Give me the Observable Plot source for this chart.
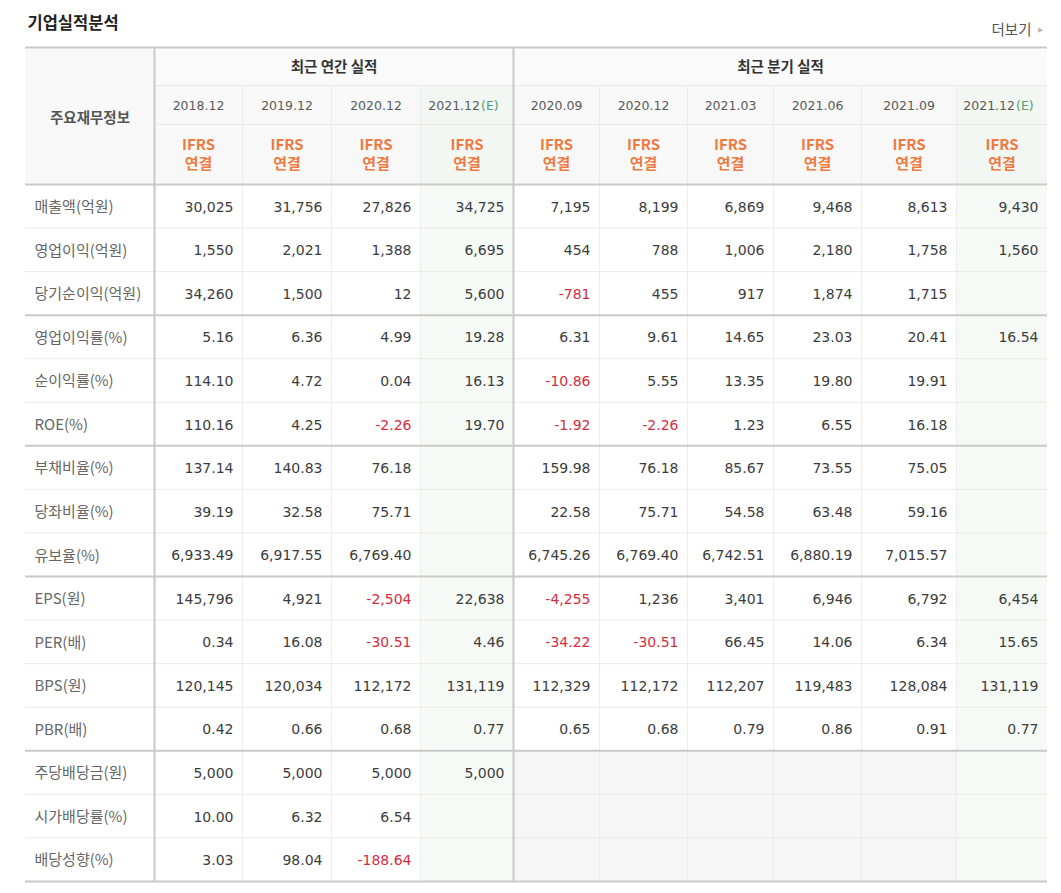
<!DOCTYPE html>
<html><head><meta charset="utf-8">
<script src="https://cdn.jsdelivr.net/npm/d3@7"></script>
<script src="https://cdn.jsdelivr.net/npm/@observablehq/plot@0.6"></script>
<style>body{margin:0;background:#fff;}</style>
</head><body><div id="chart"></div>
<script>
// ---------------- DATA ----------------
const title = "기업실적분석";
const moreLabel = "더보기";
const cornerLabel = "주요재무정보";
const groupLabels = ["최근 연간 실적", "최근 분기 실적"];
const periods = ["2018.12","2019.12","2020.12","2021.12","2020.09","2020.12","2021.03","2021.06","2021.09","2021.12"];
const isEstimate = [false,false,false,true,false,false,false,false,false,true];
const estimateTag = "(E)";
const basisLines = ["IFRS", "연결"];
const rowLabels = ["매출액(억원)","영업이익(억원)","당기순이익(억원)","영업이익률(%)","순이익률(%)","ROE(%)","부채비율(%)","당좌비율(%)","유보율(%)","EPS(원)","PER(배)","BPS(원)","PBR(배)","주당배당금(원)","시가배당률(%)","배당성향(%)"];

const sales            = [30025, 31756, 27826, 34725, 7195, 8199, 6869, 9468, 8613, 9430];
const operatingProfit  = [1550, 2021, 1388, 6695, 454, 788, 1006, 2180, 1758, 1560];
const netIncome        = [34260, 1500, 12, 5600, -781, 455, 917, 1874, 1715, null];
const operatingMargin  = [5.16, 6.36, 4.99, 19.28, 6.31, 9.61, 14.65, 23.03, 20.41, 16.54];
const netMargin        = [114.10, 4.72, 0.04, 16.13, -10.86, 5.55, 13.35, 19.80, 19.91, null];
const roe              = [110.16, 4.25, -2.26, 19.70, -1.92, -2.26, 1.23, 6.55, 16.18, null];
const debtRatio        = [137.14, 140.83, 76.18, null, 159.98, 76.18, 85.67, 73.55, 75.05, null];
const quickRatio       = [39.19, 32.58, 75.71, null, 22.58, 75.71, 54.58, 63.48, 59.16, null];
const reserveRatio     = [6933.49, 6917.55, 6769.40, null, 6745.26, 6769.40, 6742.51, 6880.19, 7015.57, null];
const eps              = [145796, 4921, -2504, 22638, -4255, 1236, 3401, 6946, 6792, 6454];
const per              = [0.34, 16.08, -30.51, 4.46, -34.22, -30.51, 66.45, 14.06, 6.34, 15.65];
const bps              = [120145, 120034, 112172, 131119, 112329, 112172, 112207, 119483, 128084, 131119];
const pbr              = [0.42, 0.66, 0.68, 0.77, 0.65, 0.68, 0.79, 0.86, 0.91, 0.77];
const dividendPerShare = [5000, 5000, 5000, 5000, null, null, null, null, null, null];
const dividendYield    = [10.00, 6.32, 6.54, null, null, null, null, null, null, null];
const payoutRatio      = [3.03, 98.04, -188.64, null, null, null, null, null, null, null];

const tableRows = [sales, operatingProfit, netIncome, operatingMargin, netMargin, roe, debtRatio, quickRatio, reserveRatio, eps, per, bps, pbr, dividendPerShare, dividendYield, payoutRatio];
const rowDecimals = [0,0,0,2,2,2,2,2,2,0,2,0,2,0,2,2];
const groupBreaksAfter = [2, 5, 8, 12];
const noQuarterlyRows = [13, 14, 15];

// ---------------- LAYOUT ----------------
const W = 1061, H = 893;
const LEFT = 25, TOP = 47;
const colWidths = [129, 88, 89, 89, 93, 86, 88, 86, 88, 95, 91];
const headerHeights = [38, 39, 60];
const ROW_H = 43.56;
const nAnnual = 4;

const colEdges = [LEFT];
colWidths.forEach(w => colEdges.push(colEdges[colEdges.length - 1] + w));
const headEdges = [TOP];
headerHeights.forEach(h => headEdges.push(headEdges[headEdges.length - 1] + h));
const bodyTop = headEdges[3];
const rowY = i => bodyTop + i * ROW_H;
const bodyBottom = rowY(rowLabels.length);
const RIGHT = colEdges[colEdges.length - 1];
const splitX = colEdges[1 + nAnnual];

const C = {
  headBg: "#f8f8f8", headEstBg: "#f2f7f3", estBg: "#f5faf7", greyBg: "#f6f6f6",
  lineLight: "#e9e9e9", lineMid: "#c9c9c9", text: "#3c3c3c", label: "#666",
  neg: "#d62c40", orange: "#ee7a42", green: "#4f9f72"
};
const NUM_FONT = "DejaVu Sans, Verdana, sans-serif";
const KR_FONT = "'Noto Sans CJK KR', 'Noto Sans', sans-serif";

// ---------------- BUILD MARK DATA ----------------
const rects = [];
rects.push({x1: LEFT, x2: colEdges[1], y1: TOP, y2: bodyTop, fill: C.headBg});
rects.push({x1: colEdges[1], x2: splitX, y1: TOP, y2: headEdges[1], fill: "#fafafa"});
rects.push({x1: splitX, x2: RIGHT, y1: TOP, y2: headEdges[1], fill: "#fafafa"});
periods.forEach((p, j) => {
  rects.push({x1: colEdges[j + 1], x2: colEdges[j + 2], y1: headEdges[1], y2: bodyTop,
    fill: isEstimate[j] ? C.headEstBg : C.headBg});
});
rowLabels.forEach((r, i) => {
  periods.forEach((p, j) => {
    let fill = null;
    if (isEstimate[j]) fill = C.estBg;
    else if (noQuarterlyRows.includes(i) && j >= nAnnual) fill = C.greyBg;
    if (fill) rects.push({x1: colEdges[j + 1], x2: colEdges[j + 2], y1: rowY(i), y2: rowY(i + 1), fill});
  });
});

const thinH = [
  {y: headEdges[1], x1: colEdges[1], x2: RIGHT},
  {y: headEdges[2], x1: colEdges[1], x2: RIGHT}
];
const thickH = [{y: TOP, x1: LEFT, x2: RIGHT}, {y: bodyTop, x1: LEFT, x2: RIGHT}, {y: bodyBottom, x1: LEFT, x2: RIGHT}];
for (let i = 0; i < rowLabels.length - 1; i++) {
  if (groupBreaksAfter.includes(i)) thickH.push({y: rowY(i + 1), x1: LEFT, x2: RIGHT});
  else thinH.push({y: rowY(i + 1), x1: LEFT, x2: RIGHT});
}
const thinV = [];
for (let j = 2; j < colEdges.length - 1; j++) {
  if (j === 1 + nAnnual) continue;
  thinV.push({x: colEdges[j], y1: headEdges[1], y2: bodyBottom});
}
const thickV = [{x: colEdges[1], y1: TOP, y2: bodyBottom}, {x: splitX, y1: TOP, y2: bodyBottom}];

const cells = [];
tableRows.forEach((vals, i) => {
  vals.forEach((v, j) => {
    if (v == null) return;
    const f = d3.format(rowDecimals[i] ? ",.2f" : ",d");
    cells.push({x: colEdges[j + 2] - 9, y: rowY(i) + ROW_H / 2 + 1, text: f(v).replace("−", "-"), neg: v < 0});
  });
});
const labels = rowLabels.map((r, i) => ({x: LEFT + 9, y: rowY(i) + ROW_H / 2 + 1, text: r}));
const colCenter = j => (colEdges[j + 1] + colEdges[j + 2]) / 2;
const dateRowY = (headEdges[1] + headEdges[2]) / 2 + 1;
const datesPlain = periods.map((p, j) => ({p, j})).filter(d => !isEstimate[d.j]).map(d => ({x: colCenter(d.j), y: dateRowY, text: d.p}));
const datesEst = periods.map((p, j) => ({p, j})).filter(d => isEstimate[d.j]).map(d => ({x: colCenter(d.j) + 13, y: dateRowY, text: d.p}));
const estTags = datesEst.map(d => ({x: d.x + 1, y: d.y, text: estimateTag}));
const basisMid = (headEdges[2] + headEdges[3]) / 2;
const basisTop = periods.map((p, j) => ({x: colCenter(j), y: basisMid - 9, text: basisLines[0]}));
const basisBottom = periods.map((p, j) => ({x: colCenter(j), y: basisMid + 10, text: basisLines[1]}));
const groups = [
  {x: (colEdges[1] + splitX) / 2, y: (headEdges[0] + headEdges[1]) / 2 + 1, text: groupLabels[0]},
  {x: (splitX + RIGHT) / 2, y: (headEdges[0] + headEdges[1]) / 2 + 1, text: groupLabels[1]}
];

// ---------------- PLOT ----------------
const chart = Plot.plot({
  width: W, height: H,
  margin: 0,
  x: {type: "identity", axis: null},
  y: {type: "identity", axis: null},
  style: {background: "#fff", overflow: "visible"},
  marks: [
    Plot.rect(rects, {x1: "x1", x2: "x2", y1: "y1", y2: "y2", fill: d => d.fill, inset: 0}),
    Plot.ruleY(thinH, {y: "y", x1: "x1", x2: "x2", stroke: C.lineLight, strokeWidth: 1}),
    Plot.ruleX(thinV, {x: "x", y1: "y1", y2: "y2", stroke: "#ececec", strokeWidth: 1}),
    Plot.ruleY(thickH, {y: "y", x1: "x1", x2: "x2", stroke: C.lineMid, strokeWidth: 2}),
    Plot.ruleX(thickV, {x: "x", y1: "y1", y2: "y2", stroke: C.lineMid, strokeWidth: 2}),
    // title + more
    Plot.text([title], {x: () => 27, y: () => 23, text: d => d, textAnchor: "start", fontSize: 16.5, fontWeight: "bold", fill: "#222", fontFamily: KR_FONT}),
    Plot.text([moreLabel], {x: () => 1031, y: () => 30, text: d => d, textAnchor: "end", fontSize: 14.5, fill: "#555", fontFamily: KR_FONT}),
    Plot.text(["▶"], {x: () => 1040, y: () => 29, text: d => d, fontSize: 7, fill: "#bbb"}),
    // headers
    Plot.text([cornerLabel], {x: () => (LEFT + colEdges[1]) / 2, y: () => (TOP + bodyTop) / 2 + 2, text: d => d, fontSize: 14.5, fontWeight: "bold", fill: "#555", fontFamily: KR_FONT}),
    Plot.text(groups, {x: "x", y: "y", text: "text", fontSize: 14.5, fontWeight: "bold", fill: "#333", fontFamily: KR_FONT}),
    Plot.text(datesPlain, {x: "x", y: "y", text: "text", fontSize: 12.5, fill: "#5a5a5a", fontFamily: NUM_FONT}),
    Plot.text(datesEst, {x: "x", y: "y", text: "text", textAnchor: "end", fontSize: 12.5, fill: "#5a5a5a", fontFamily: NUM_FONT}),
    Plot.text(estTags, {x: "x", y: "y", text: "text", textAnchor: "start", fontSize: 12.5, fill: C.green, fontFamily: NUM_FONT}),
    Plot.text(basisTop, {x: "x", y: "y", text: "text", fontSize: 15, fontWeight: "bold", fill: C.orange, fontFamily: KR_FONT}),
    Plot.text(basisBottom, {x: "x", y: "y", text: "text", fontSize: 15, fontWeight: "bold", fill: C.orange, fontFamily: KR_FONT}),
    // body
    Plot.text(labels, {x: "x", y: "y", text: "text", textAnchor: "start", fontSize: 15, fill: C.label, fontFamily: KR_FONT}),
    Plot.text(cells, {x: "x", y: "y", text: "text", textAnchor: "end", fontSize: 14, fill: d => d.neg ? C.neg : C.text, fontFamily: NUM_FONT})
  ]
});
document.getElementById("chart").appendChild(chart);
</script>
</body></html>
